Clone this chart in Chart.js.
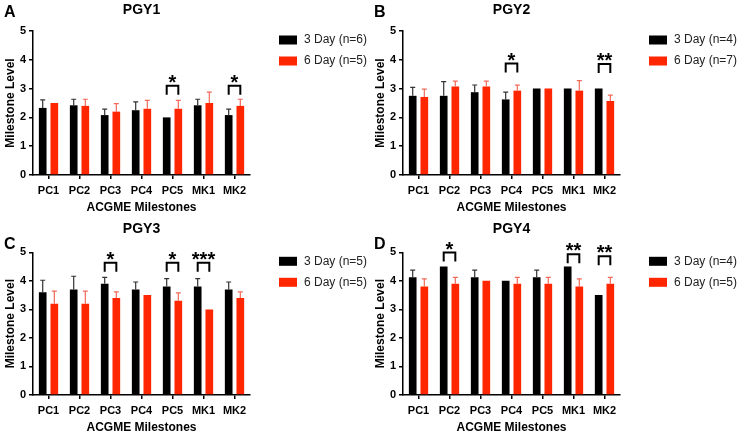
<!DOCTYPE html>
<html>
<head>
<meta charset="utf-8">
<script src="https://cdn.jsdelivr.net/npm/chart.js@4.4.1/dist/chart.umd.min.js"></script>
<style>
  html, body { margin: 0; padding: 0; background: #fff; }
  #figure { position: relative; width: 740px; height: 438px; }
  #figure canvas { position: absolute; }
</style>
</head>
<body>
<div id="figure">
  <canvas id="pgy1" width="370" height="219" style="left:0;top:0"></canvas>
  <canvas id="pgy2" width="370" height="219" style="left:370px;top:0"></canvas>
  <canvas id="pgy3" width="370" height="218" style="left:0;top:220px"></canvas>
  <canvas id="pgy4" width="370" height="218" style="left:370px;top:220px"></canvas>
</div>
<script>
const milestones = ['PC1', 'PC2', 'PC3', 'PC4', 'PC5', 'MK1', 'MK2'];

// PGY1
const pgy1Groups = ['3 Day (n=6)', '6 Day (n=5)'];
const pgy1Short = [2.33, 2.42, 2.08, 2.25, 2.0, 2.42, 2.08];
const pgy1ShortErr = [0.28, 0.21, 0.21, 0.29, 0, 0.21, 0.21];
const pgy1Long = [2.5, 2.4, 2.2, 2.3, 2.3, 2.5, 2.4];
const pgy1LongErr = [0, 0.23, 0.28, 0.29, 0.29, 0.38, 0.23];
const pgy1Sig = [{ at: 4, mark: '*', level: 3.1 }, { at: 6, mark: '*', level: 3.1 }];

// PGY2
const pgy2Groups = ['3 Day (n=4)', '6 Day (n=7)'];
const pgy2Short = [2.75, 2.75, 2.875, 2.625, 3, 3, 3];
const pgy2ShortErr = [0.29, 0.49, 0.25, 0.25, 0, 0, 0];
const pgy2Long = [2.71, 3.07, 3.07, 2.93, 3, 2.93, 2.57];
const pgy2LongErr = [0.27, 0.19, 0.19, 0.19, 0, 0.35, 0.2];
const pgy2Sig = [{ at: 3, mark: '*', level: 3.87 }, { at: 6, mark: '**', level: 3.85 }];

// PGY3
const pgy3Groups = ['3 Day (n=5)', '6 Day (n=5)'];
const pgy3Short = [3.6, 3.7, 3.9, 3.7, 3.8, 3.8, 3.7];
const pgy3ShortErr = [0.42, 0.46, 0.22, 0.26, 0.28, 0.28, 0.26];
const pgy3Long = [3.2, 3.2, 3.4, 3.5, 3.3, 3.0, 3.4];
const pgy3LongErr = [0.44, 0.44, 0.21, 0, 0.28, 0, 0.21];
const pgy3Sig = [{ at: 2, mark: '*', level: 4.63 }, { at: 4, mark: '*', level: 4.63 }, { at: 5, mark: '***', level: 4.63 }];

// PGY4
const pgy4Groups = ['3 Day (n=4)', '6 Day (n=5)'];
const pgy4Short = [4.125, 4.5, 4.125, 4.0, 4.125, 4.5, 3.5];
const pgy4ShortErr = [0.25, 0, 0.25, 0, 0.25, 0, 0];
const pgy4Long = [3.8, 3.9, 4.0, 3.9, 3.9, 3.8, 3.9];
const pgy4LongErr = [0.27, 0.22, 0, 0.22, 0.22, 0.27, 0.22];
const pgy4Sig = [{ at: 1, mark: '*', level: 4.99 }, { at: 5, mark: '**', level: 4.93 }, { at: 6, mark: '**', level: 4.86 }];

const FONT = 'Arial, "Liberation Sans", Helvetica, sans-serif';
Chart.defaults.font.family = FONT;
Chart.defaults.color = '#000';

/**
 * Upward-only error bars, drawn on top of each bar
 */
const errorBars = {
  id: 'errorBars',
  afterDatasetsDraw(chart) {
    const { ctx } = chart;
    const y = chart.scales.y;
    chart.data.datasets.forEach((ds, i) => {
      const meta = chart.getDatasetMeta(i);
      meta.data.forEach((bar, j) => {
        const err = ds.errors[j];
        if (!err) return;
        const top = y.getPixelForValue(ds.data[j] + err);
        ctx.save();
        ctx.strokeStyle = ds.errorColor;
        ctx.lineWidth = 1.2;
        ctx.beginPath();
        ctx.moveTo(bar.x, bar.y);
        ctx.lineTo(bar.x, top);
        ctx.moveTo(bar.x - 2.5, top);
        ctx.lineTo(bar.x + 2.5, top);
        ctx.stroke();
        ctx.restore();
      });
    });
  }
};

/**
 * Significance brackets between the two bars of a milestone
 */
const brackets = {
  id: 'brackets',
  afterDraw(chart, args, opts) {
    const { ctx } = chart;
    const y = chart.scales.y;
    const left = chart.getDatasetMeta(0).data;
    const right = chart.getDatasetMeta(1).data;
    (opts.marks || []).forEach(m => {
      const x1 = left[m.at].x;
      const x2 = right[m.at].x;
      const top = y.getPixelForValue(m.level);
      ctx.save();
      ctx.strokeStyle = '#000';
      ctx.lineWidth = 2;
      ctx.beginPath();
      ctx.moveTo(x1, top + 9);
      ctx.lineTo(x1, top);
      ctx.lineTo(x2, top);
      ctx.lineTo(x2, top + 9);
      ctx.stroke();
      ctx.fillStyle = '#000';
      ctx.font = 'bold 20px ' + FONT;
      ctx.textAlign = 'center';
      ctx.textBaseline = 'alphabetic';
      ctx.fillText(m.mark, (x1 + x2) / 2, top + 3);
      ctx.restore();
    });
  }
};

/**
 * Legend to the right of the plot (boxes + group labels)
 */
const sideLegend = {
  id: 'sideLegend',
  afterDraw(chart) {
    const { ctx, chartArea } = chart;
    const x = chartArea.right + 29;
    ctx.save();
    ctx.font = '12px ' + FONT;
    ctx.textAlign = 'left';
    ctx.textBaseline = 'middle';
    chart.data.datasets.forEach((ds, i) => {
      const cy = chartArea.top + 9 + i * 21;
      ctx.fillStyle = ds.backgroundColor;
      ctx.fillRect(x, cy - 4.5, 18, 9);
      ctx.fillStyle = '#222';
      ctx.fillText(ds.label, x + 25, cy);
    });
    ctx.restore();
  }
};

/**
 * Panel letter in the top-left corner
 */
const panelLetter = {
  id: 'panelLetter',
  afterDraw(chart, args, opts) {
    const { ctx } = chart;
    ctx.save();
    ctx.fillStyle = '#000';
    ctx.font = 'bold 16px ' + FONT;
    ctx.textAlign = 'left';
    ctx.textBaseline = 'middle';
    ctx.fillText(opts.text, 4, opts.y);
    ctx.restore();
  }
};

function createPanel(id, title, letter, groups, shortVals, shortErr, longVals, longErr, sig, row) {
  const topRow = row === 0;
  return new Chart(document.getElementById(id), {
    type: 'bar',
    data: {
      labels: milestones,
      datasets: [
        {
          label: groups[0],
          data: shortVals,
          errors: shortErr,
          errorColor: '#333',
          backgroundColor: '#000',
          borderWidth: 0,
          categoryPercentage: 0.75,
          barPercentage: 0.66
        },
        {
          label: groups[1],
          data: longVals,
          errors: longErr,
          errorColor: '#f26a5a',
          backgroundColor: '#ff2600',
          borderWidth: 0,
          categoryPercentage: 0.75,
          barPercentage: 0.66
        }
      ]
    },
    options: {
      responsive: false,
      animation: false,
      layout: {
        padding: { top: 0, left: 2, right: 120, bottom: topRow ? 3.8 : 2.8 }
      },
      plugins: {
        title: {
          display: true,
          text: title,
          fullSize: false,
          color: '#000',
          font: { size: 14, weight: 'bold' },
          padding: topRow ? { top: 1.6, bottom: 12.6 } : { top: 0.6, bottom: 14.9 }
        },
        legend: { display: false },
        tooltip: { enabled: false },
        brackets: { marks: sig },
        panelLetter: { text: letter, y: topRow ? 12.5 : 25 }
      },
      scales: {
        x: {
          grid: {
            display: true,
            offset: false,
            drawOnChartArea: false,
            drawTicks: true,
            tickLength: 4,
            color: '#000',
            lineWidth: 1.5
          },
          border: { display: true, color: '#000', width: 1.5 },
          ticks: {
            padding: 5,
            color: '#000',
            font: { size: 11, weight: 'bold' },
            maxRotation: 0
          },
          title: {
            display: true,
            text: 'ACGME Milestones',
            color: '#000',
            font: { size: 12, weight: 'bold' },
            padding: { top: -1.4, bottom: 0 }
          }
        },
        y: {
          min: 0,
          max: 5,
          grid: {
            display: true,
            drawOnChartArea: false,
            drawTicks: true,
            tickLength: 4,
            color: '#000',
            lineWidth: 1.5
          },
          border: { display: true, color: '#000', width: 1.5 },
          ticks: {
            stepSize: 1,
            padding: 3,
            color: '#000',
            font: { size: 11, weight: 'bold' }
          },
          title: {
            display: true,
            text: 'Milestone Level',
            color: '#000',
            font: { size: 12, weight: 'bold' },
            padding: { top: 1, bottom: -0.5 }
          }
        }
      }
    },
    plugins: [errorBars, brackets, sideLegend, panelLetter]
  });
}

createPanel('pgy1', 'PGY1', 'A', pgy1Groups, pgy1Short, pgy1ShortErr, pgy1Long, pgy1LongErr, pgy1Sig, 0);
createPanel('pgy2', 'PGY2', 'B', pgy2Groups, pgy2Short, pgy2ShortErr, pgy2Long, pgy2LongErr, pgy2Sig, 0);
createPanel('pgy3', 'PGY3', 'C', pgy3Groups, pgy3Short, pgy3ShortErr, pgy3Long, pgy3LongErr, pgy3Sig, 1);
createPanel('pgy4', 'PGY4', 'D', pgy4Groups, pgy4Short, pgy4ShortErr, pgy4Long, pgy4LongErr, pgy4Sig, 1);
</script>
</body>
</html>
